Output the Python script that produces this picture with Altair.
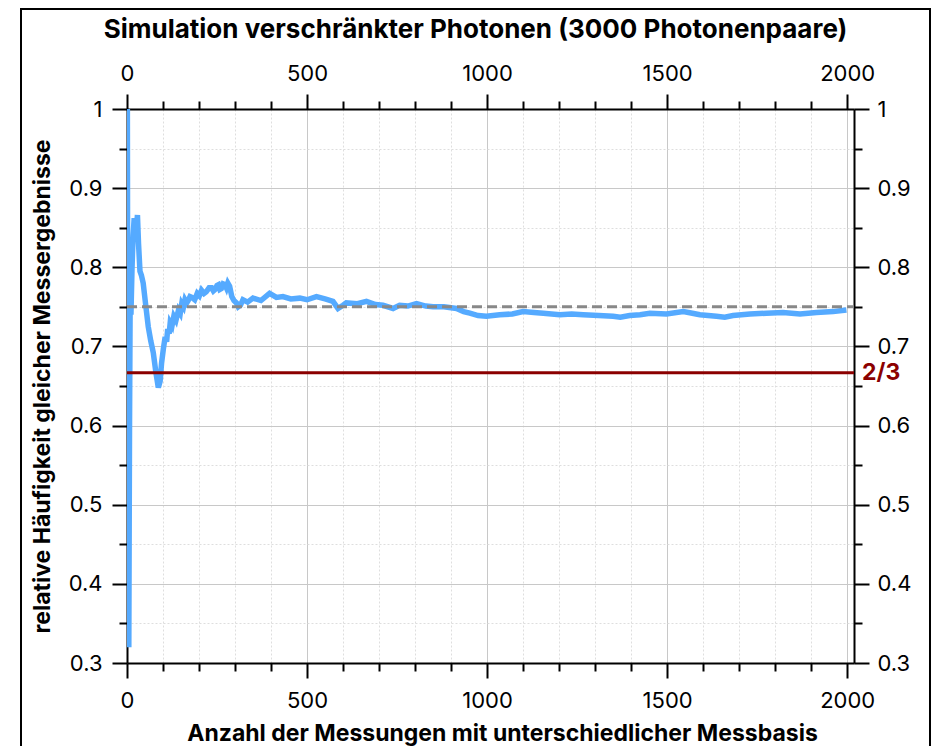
import altair as alt
import pandas as pd

# ---- data ----
n_meas = [1, 3, 5, 7, 9, 11, 14, 17, 20, 24, 29, 32, 36, 40, 45, 52, 59, 66, 73, 80,
          87, 92, 96, 101, 106, 110, 113, 117, 120, 125, 130, 136, 143, 148, 152, 157,
          161, 166, 170, 175, 180, 188, 195, 201, 207, 214, 220, 228, 235, 240, 245,
          250, 254, 258, 262, 267, 272, 276, 280, 285, 291, 297, 304, 309, 315, 322,
          335, 350, 372, 396, 415, 433, 455, 480, 500, 526, 550, 572, 586, 600, 609,
          640, 665, 690, 711, 739, 757, 780, 804, 830, 850, 880, 915, 935, 952, 975,
          998, 1035, 1070, 1100, 1130, 1156, 1202, 1235, 1267, 1310, 1350, 1370, 1396,
          1425, 1452, 1498, 1545, 1570, 1591, 1637, 1660, 1683, 1730, 1776, 1822, 1869,
          1915, 1961, 1998]
rel_freq = [1.0, 0.40, 0.32, 0.60, 0.78, 0.74, 0.80, 0.84, 0.862, 0.835, 0.866, 0.83,
            0.795, 0.79, 0.78, 0.752, 0.725, 0.707, 0.692, 0.668, 0.648, 0.656, 0.679,
            0.697, 0.712, 0.706, 0.722, 0.716, 0.730, 0.726, 0.738, 0.733, 0.746, 0.742,
            0.754, 0.750, 0.759, 0.755, 0.758, 0.763, 0.762, 0.759, 0.767, 0.764, 0.771,
            0.767, 0.769, 0.774, 0.774, 0.770, 0.772, 0.777, 0.778, 0.772, 0.773, 0.779,
            0.778, 0.774, 0.780, 0.776, 0.763, 0.758, 0.755, 0.750, 0.752, 0.759,
            0.756, 0.761, 0.758, 0.767, 0.762, 0.763, 0.760, 0.761, 0.759, 0.763,
            0.760, 0.757, 0.748, 0.752, 0.755, 0.754, 0.757, 0.753, 0.752, 0.748, 0.752,
            0.751, 0.754, 0.751, 0.750, 0.750, 0.748, 0.744, 0.742, 0.739, 0.738, 0.740,
            0.741, 0.744, 0.743, 0.742, 0.740, 0.741, 0.740, 0.739, 0.738, 0.737, 0.739,
            0.740, 0.742, 0.741, 0.744, 0.742, 0.740, 0.738, 0.737, 0.739, 0.741, 0.742,
            0.743, 0.741, 0.743, 0.744, 0.746]

quantum_value = [0.75]
classic_value = [2 / 3]
classic_label = ["2/3"]

x_ticks = [0, 100, 200, 300, 400, 500, 600, 700, 800, 900, 1000, 1100, 1200, 1300,
           1400, 1500, 1600, 1700, 1800, 1900, 2000]
y_ticks = [0.3, 0.35, 0.4, 0.45, 0.5, 0.55, 0.6, 0.65, 0.7, 0.75, 0.8, 0.85, 0.9, 0.95, 1.0]

title_text = "Simulation verschränkter Photonen (3000 Photonenpaare)"
x_title = "Anzahl der Messungen mit unterschiedlicher Messbasis"
y_title = "relative Häufigkeit gleicher Messergebnisse"

x_domain = [0, 2019]
y_domain = [0.3, 1.0]

# ---- build ----
line_df = pd.DataFrame({"n": n_meas, "f": rel_freq})
q_df = pd.DataFrame({"v": quantum_value})
c_df = pd.DataFrame({"v": classic_value, "label": classic_label, "xmax": [x_domain[1]]})

FONT = "Inter"
x_major = "datum.value % 500 === 0"
y_major = "abs(datum.value * 10 - round(datum.value * 10)) < 0.001"

xscale = alt.Scale(domain=x_domain, nice=False, zero=False)
yscale = alt.Scale(domain=y_domain, nice=False, zero=False)


def x_axis(orient, grid):
    kw = dict(
        orient=orient, values=x_ticks, title=x_title if orient == "bottom" else None,
        labelExpr=f"{x_major} ? format(datum.value, 'd') : ''",
        tickSize={"condition": {"test": x_major, "value": 15}, "value": 8},
        tickColor="black", tickWidth=2, domainColor="black", domainWidth=2,
        labelFont=FONT, labelFontSize=22, labelColor="black",
        labelPadding=12 if orient == "bottom" else 9,
        labelFlush=False, labelOverlap=False,
        grid=grid,
    )
    if orient == "bottom":
        kw.update(titleFont=FONT, titleFontSize=23, titleFontWeight="bold",
                  titleColor="black", titlePadding=11, titleX=375, titleAnchor="middle")
    if grid:
        kw.update(
            gridColor={"condition": {"test": x_major, "value": "#c8c8c8"}, "value": "#dedede"},
            gridDash={"condition": {"test": x_major, "value": []}, "value": [2, 2]},
            gridWidth=1,
        )
    return alt.Axis(**kw)


def y_axis(orient, grid):
    kw = dict(
        orient=orient, values=y_ticks, title=y_title if orient == "left" else None,
        labelExpr=f"{y_major} ? (datum.value >= 0.999 ? '1' : format(datum.value, '.1f')) : ''",
        tickSize={"condition": {"test": y_major, "value": 15}, "value": 8},
        tickColor="black", tickWidth=2, domainColor="black", domainWidth=2,
        labelFont=FONT, labelFontSize=22, labelColor="black",
        labelPadding=10 if orient == "left" else 8,
        labelFlush=False, labelOverlap=False,
        grid=grid,
    )
    if orient == "left":
        kw.update(titleFont=FONT, titleFontSize=23, titleFontWeight="bold",
                  titleColor="black", titlePadding=14)
    if grid:
        kw.update(
            gridColor={"condition": {"test": y_major, "value": "#c8c8c8"}, "value": "#dedede"},
            gridDash={"condition": {"test": y_major, "value": []}, "value": [2, 2]},
            gridWidth=1,
        )
    return alt.Axis(**kw)


line = alt.Chart(line_df).mark_line(color="#55AAFF", strokeWidth=5.5, clip=True).encode(
    x=alt.X("n:Q", scale=xscale, axis=x_axis("bottom", True)),
    y=alt.Y("f:Q", scale=yscale, axis=y_axis("left", True)),
)

quantum = alt.Chart(q_df).mark_rule(color="#888888", strokeWidth=3, strokeDash=[10, 5]).encode(
    y=alt.Y("v:Q", scale=yscale, axis=y_axis("right", False)),
    x=alt.value(0),
    x2=alt.value(727),
)

# invisible layer to carry the top axis
top_carrier = alt.Chart(q_df).mark_rule(opacity=0).encode(
    x=alt.X("xmax:Q", scale=xscale, axis=x_axis("top", False)),
    y=alt.value(0),
    y2=alt.value(1),
).transform_calculate(xmax=str(x_domain[0]))

classic = alt.Chart(c_df).mark_rule(color="#8B0000", strokeWidth=3).encode(
    y=alt.Y("v:Q", scale=yscale, axis=None),
    x=alt.value(0),
    x2=alt.value(727),
)

classic_text = alt.Chart(c_df).mark_text(
    align="left", baseline="middle", dx=8, font=FONT, fontSize=23,
    fontWeight="bold", color="#8B0000",
).encode(
    x=alt.X("xmax:Q", scale=xscale, axis=None),
    y=alt.Y("v:Q", scale=yscale, axis=None),
    text="label:N",
)

frame = alt.Chart(q_df).mark_rect(fill=None, stroke="black", strokeWidth=2, clip=False).encode(
    x=alt.value(-106), x2=alt.value(803), y=alt.value(-100), y2=alt.value(700),
)

chart = alt.layer(line, quantum, top_carrier, classic, classic_text, frame).resolve_axis(
    x="independent", y="independent"
).properties(
    width=727, height=554,
    autosize=alt.AutoSizeParams(type="none"),
    padding={"left": 119, "top": 101, "right": 77, "bottom": 83},
    title=alt.TitleParams(title_text, font=FONT, fontSize=26, fontWeight="bold",
                          color="black", anchor="middle", dx=-15, dy=56, offset=0,
                          baseline="alphabetic"),
).configure_view(stroke=None).configure(background="white")

chart.save("out.html", embed_options={"renderer": "svg", "actions": False})
